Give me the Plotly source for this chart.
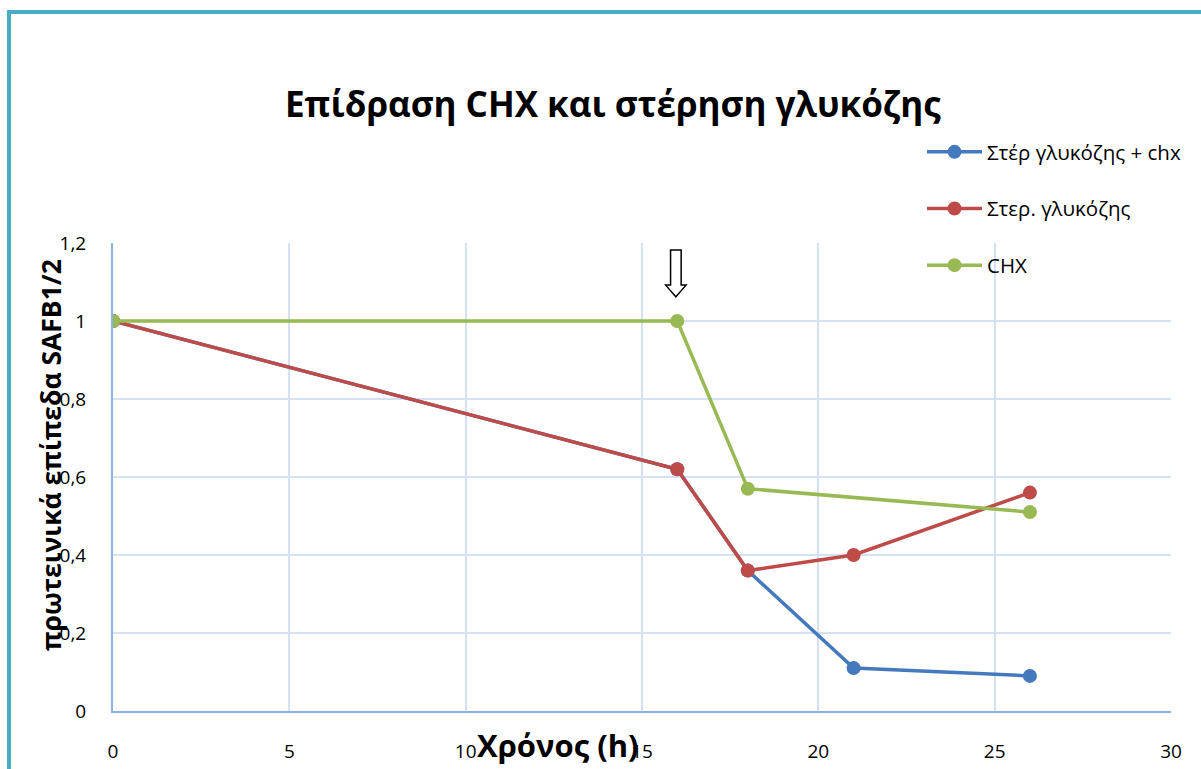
import plotly.graph_objects as go

# Time points (h) and relative SAFB1/2 protein levels
time_glc_chx = [0, 16, 18, 21, 26]
level_glc_chx = [1.0, 0.62, 0.36, 0.11, 0.09]

time_glc = [0, 16, 18, 21, 26]
level_glc = [1.0, 0.62, 0.36, 0.40, 0.56]

time_chx = [0, 16, 18, 26]
level_chx = [1.0, 1.0, 0.57, 0.51]

series_names = ["Στέρ γλυκόζης + chx", "Στερ. γλυκόζης", "CHX"]
series_colors = ["#4479BE", "#BE4B48", "#98B954"]

x_ticks = [0, 5, 10, 15, 20, 25, 30]
y_ticks = [0, 0.2, 0.4, 0.6, 0.8, 1.0, 1.2]
y_tick_text = ["0", "0,2", "0,4", "0,6", "0,8", "1", "1,2"]

arrow_time = 16  # time of treatment marker

W, H = 1201, 769
ML, MR, MT, MB = 113, 30, 243, 58
PW, PH = W - ML - MR, H - MT - MB

FONT = "Open Sans"

fig = go.Figure()

series = [
    (time_glc_chx, level_glc_chx),
    (time_glc, level_glc),
    (time_chx, level_chx),
]
# draw order: blue first, then red, green on top
for i, (xs, ys) in enumerate(series):
    fig.add_trace(go.Scatter(
        x=xs, y=ys, mode="lines+markers", name=series_names[i],
        line=dict(color=series_colors[i], width=3.5),
        marker=dict(color=series_colors[i], size=14),
        legendgroup=f"g{i}",
    ))


def px_x(p):
    return (p - ML) / PW


def px_y(p):
    return (H - MB - p) / PH


shapes = [
    # outer chart frame
    dict(type="rect", xref="paper", yref="paper",
         x0=px_x(9), x1=px_x(1230), y0=px_y(12), y1=px_y(800),
         line=dict(color="#4BACC6", width=4), fillcolor="rgba(0,0,0,0)",
         layer="above"),
]

# hollow down arrow above the treatment time point
shaft = 0.15
head = 0.29
y_top, y_sh, y_tip = 1.182, 1.092, 1.062
ax = arrow_time - 0.04
path = (f"M {ax-shaft},{y_top} L {ax+shaft},{y_top} L {ax+shaft},{y_sh} "
        f"L {ax+head},{y_sh} L {ax},{y_tip} L {ax-head},{y_sh} "
        f"L {ax-shaft},{y_sh} Z")
shapes.append(dict(type="path", xref="x", yref="y", path=path,
                   line=dict(color="black", width=1.5),
                   fillcolor="white"))

annotations = [
    dict(text="<b>Επίδραση CHX και στέρηση γλυκόζης</b>", xref="paper", yref="paper",
         x=px_x(613), y=px_y(104), xanchor="center", yanchor="middle",
         showarrow=False, font=dict(family=FONT, size=35, color="black")),
    dict(text="<b>πρωτεινικά επίπεδα SAFB1/2</b>", xref="paper", yref="paper",
         x=px_x(51), y=px_y(455), xanchor="center", yanchor="middle",
         textangle=-90, showarrow=False,
         font=dict(family=FONT, size=26.5, color="black")),
    dict(text="<b>Χρόνος (h)</b>", xref="paper", yref="paper",
         x=px_x(558), y=px_y(745), xanchor="center", yanchor="middle",
         showarrow=False, font=dict(family=FONT, size=31, color="black")),
]

fig.update_layout(
    width=W, height=H,
    margin=dict(l=ML, r=MR, t=MT, b=MB, autoexpand=False),
    paper_bgcolor="white", plot_bgcolor="white",
    font=dict(family=FONT, color="black"),
    shapes=shapes, annotations=annotations,
    showlegend=True,
    legend=dict(x=px_x(922), y=px_y(132), xanchor="left", yanchor="top",
                font=dict(family=FONT, size=20.5, color="black"),
                traceorder="grouped", tracegroupgap=27,
                bgcolor="rgba(0,0,0,0)", itemwidth=55),
)

fig.update_xaxes(
    range=[0, 30], tickvals=x_ticks, showgrid=True, gridcolor="#D5E1F2",
    gridwidth=1.5, showline=True, linecolor="#8AB2E3", linewidth=2,
    zeroline=False, ticks="", ticklabelstandoff=22, automargin=False,
    tickfont=dict(family=FONT, size=19, color="black"),
)
fig.update_yaxes(
    range=[0, 1.2], tickvals=y_ticks, ticktext=y_tick_text, showgrid=True,
    gridcolor="#D5E1F2", gridwidth=1.5, showline=True, linecolor="#8AB2E3",
    linewidth=2, zeroline=False, ticks="", ticklabelstandoff=21,
    automargin=False,
    tickfont=dict(family=FONT, size=19, color="black"),
)

fig.write_html("out.html")
